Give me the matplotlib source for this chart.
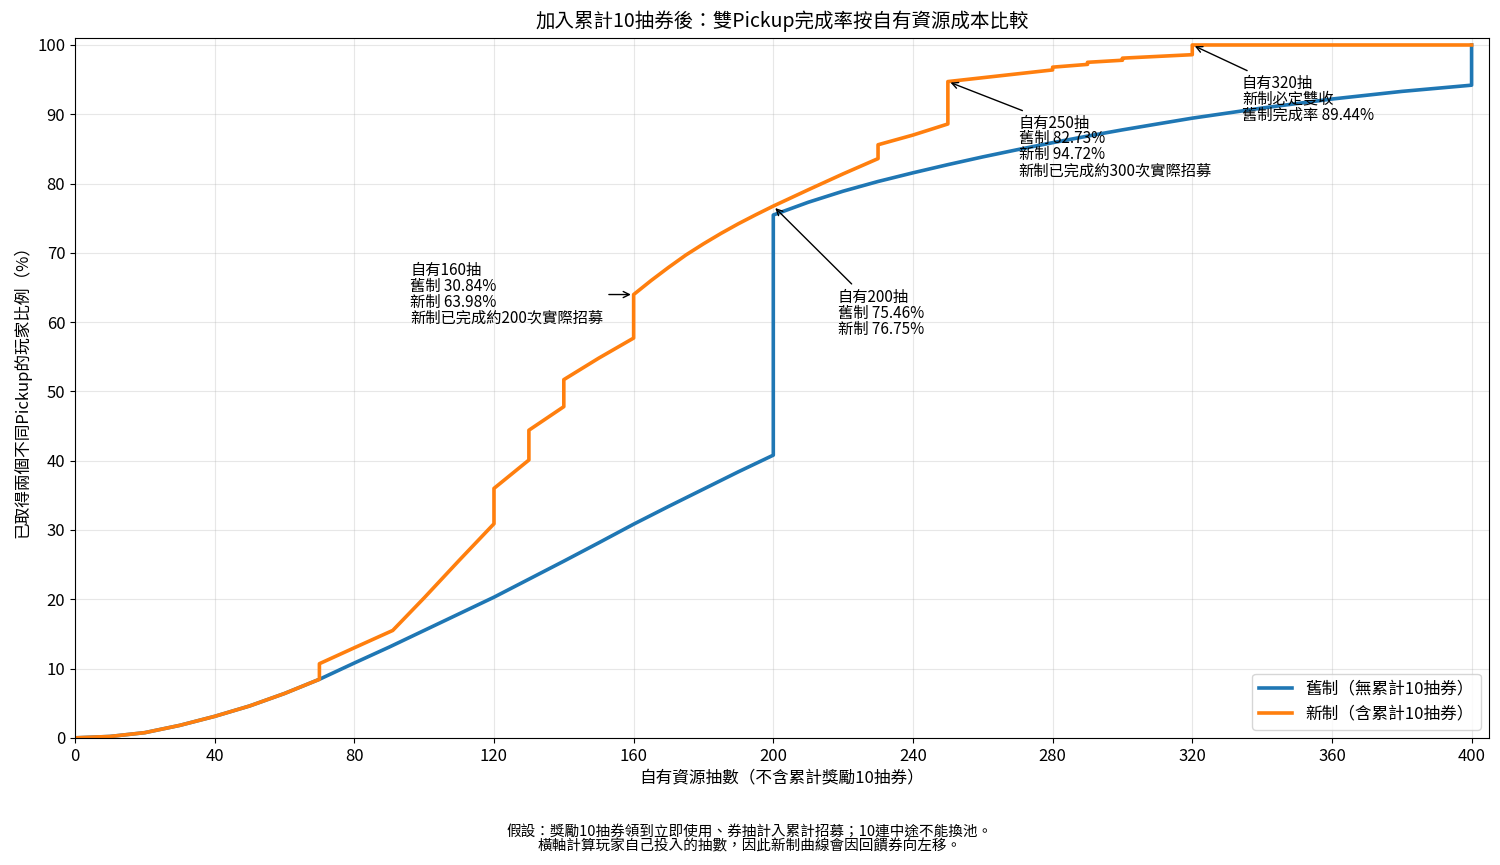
import numpy as np
import matplotlib
matplotlib.use("Agg")
import matplotlib.pyplot as plt

plt.rcParams['font.family'] = ['Noto Sans CJK TC', 'DejaVu Sans']
plt.rcParams['axes.unicode_minus'] = False

# 舊制（無累計10抽券）: 自有抽數 -> 完成率(%)
old_x = [0, 10, 20, 30, 40, 50, 60, 70, 80, 90, 100, 110, 120, 130, 140, 150,
         160, 170, 180, 190, 200, 200, 210, 220, 230, 240, 250, 260, 270, 280,
         290, 300, 310, 320, 340, 360, 380, 400, 400]
old_y = [0.0, 0.2, 0.75, 1.8, 3.1, 4.6, 6.4, 8.45, 10.8, 13.1, 15.5, 17.9, 20.3,
         22.9, 25.5, 28.15, 30.84, 33.4, 35.9, 38.4, 40.8, 75.46, 77.3, 78.9,
         80.3, 81.55, 82.73, 83.85, 84.9, 85.9, 86.85, 87.75, 88.6, 89.44, 90.9,
         92.2, 93.3, 94.2, 100.0]

# 新制（含累計10抽券）
new_x = [0, 10, 20, 30, 40, 50, 60, 70, 70, 80, 91, 100, 110, 120, 120, 130,
         130, 140, 140, 150, 160, 160, 165, 170, 175, 180, 185, 190, 195, 200,
         210, 220, 230, 230, 240, 250, 250, 280, 280, 290, 290, 300, 300, 320,
         320, 400]
new_y = [0.0, 0.2, 0.75, 1.8, 3.1, 4.6, 6.4, 8.45, 10.7, 13.0, 15.5, 20.2, 25.6,
         30.9, 36.0, 40.1, 44.4, 47.8, 51.7, 54.8, 57.7, 63.98, 66.0, 67.9,
         69.7, 71.3, 72.8, 74.2, 75.5, 76.75, 79.1, 81.4, 83.6, 85.6, 87.0,
         88.6, 94.72, 96.4, 96.8, 97.2, 97.5, 97.8, 98.1, 98.6, 100.0, 100.0]

# 註解: (自有抽數, 指向的完成率, 文字位置x, 文字位置y, 文字)
notes = [
    (160, 63.98, 96, 64.0, "自有160抽\n舊制 30.84%\n新制 63.98%\n新制已完成約200次實際招募"),
    (200, 76.75, 218.5, 61.3, "自有200抽\n舊制 75.46%\n新制 76.75%"),
    (250, 94.72, 270.3, 85.3, "自有250抽\n舊制 82.73%\n新制 94.72%\n新制已完成約300次實際招募"),
    (320, 100.0, 334.2, 92.2, "自有320抽\n新制必定雙收\n舊制完成率 89.44%"),
]

fig, ax = plt.subplots(figsize=(15, 8.65), dpi=100)
fig.subplots_adjust(left=0.05, right=0.9927, top=0.956, bottom=0.147)

ax.plot(old_x, old_y, color='#1f77b4', linewidth=2.6, label='舊制（無累計10抽券）')
ax.plot(new_x, new_y, color='#ff7f0e', linewidth=2.6, label='新制（含累計10抽券）')

for px, py, tx, ty, txt in notes:
    ax.annotate(txt, xy=(px, py), xytext=(tx, ty), ha='left', va='center',
                fontsize=11, linespacing=0.92,
                arrowprops=dict(arrowstyle='->', color='black', lw=1))

ax.set_xlim(0, 405)
ax.set_ylim(0, 101)
ax.set_xticks(np.arange(0, 401, 40))
ax.set_yticks(np.arange(0, 101, 10))
ax.tick_params(labelsize=12)
ax.grid(True, alpha=0.3)

ax.set_title('加入累計10抽券後：雙Pickup完成率按自有資源成本比較', fontsize=14, pad=8)
ax.set_xlabel('自有資源抽數（不含累計獎勵10抽券）', fontsize=12)
ax.set_ylabel('已取得兩個不同Pickup的玩家比例（%）', fontsize=12)
ax.legend(loc='lower right', fontsize=12)

fig.text(0.5, 0.03,
         '假設：獎勵10抽券領到立即使用、券抽計入累計招募；10連中途不能換池。\n'
         '橫軸計算玩家自己投入的抽數，因此新制曲線會因回饋券向左移。',
         ha='center', va='center', fontsize=10.5, linespacing=1.05)

fig.savefig('out.png', dpi=100)
